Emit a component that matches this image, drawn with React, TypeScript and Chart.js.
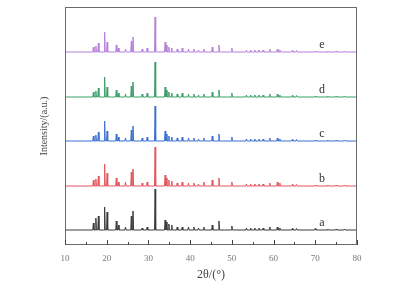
import React, { useEffect, useRef } from "react";
import { Chart, registerables } from "chart.js";
Chart.register(...registerables);

// Peak positions (2θ, degrees)
const peakPositions = [16.8, 17.4, 18.0, 19.5, 20.1, 22.3, 22.8, 24.5, 25.9, 26.3, 28.5, 29.7, 31.6, 34.0, 34.3, 34.9, 35.6, 36.9, 38.1, 39.6, 40.9, 42.0, 43.3, 45.3, 46.9, 50.0, 53.5, 54.5, 55.5, 56.5, 57.5, 59.1, 60.9, 61.5, 64.5, 65.5, 70.0, 73.0, 75.0, 77.0];
// Peak heights per sample (relative intensity)
const heightsA = [7, 12, 14, 23, 18, 9, 5, 3, 14, 19, 2, 3, 41, 10, 8, 6, 5, 3, 3, 3, 3, 2, 3, 5, 9, 4, 2, 2, 2, 2, 2, 3, 3, 2, 1.5, 1.5, 1.5, 1, 1, 1];
const heightsB = [6, 7, 10, 22, 13, 8, 4, 4, 14, 17, 3, 4, 39, 11, 8, 6, 5, 3, 4, 3, 3, 2, 4, 6, 8, 4, 2, 2, 2, 2, 2, 3, 4, 3, 1.5, 1.5, 1, 1, 1, 1];
const heightsC = [5, 6, 9, 20, 10, 7, 4, 3, 11, 15, 3, 4, 35, 10, 7, 5, 4, 3, 4, 3, 3, 2, 3, 5, 7, 4, 2, 2, 2, 2, 2, 3, 3, 2, 1.5, 1.5, 1, 1, 1, 1];
const heightsD = [5, 6, 9, 20, 10, 7, 4, 3, 11, 15, 3, 4, 35, 10, 7, 5, 4, 3, 4, 3, 3, 2, 3, 5, 7, 4, 2, 2, 2, 2, 2, 3, 3, 2, 1.5, 1.5, 1, 1, 1, 1];
const heightsE = [5, 6, 9, 20, 10, 7, 4, 3, 11, 15, 3, 4, 35, 10, 7, 5, 4, 3, 4, 3, 3, 2, 3, 5, 7, 4, 2, 2, 2, 2, 2, 3, 3, 2, 1.5, 1.5, 1, 1, 1, 1];
const sampleLabels = ["a", "b", "c", "d", "e"];
const stackOffsets = [15, 59, 104, 148, 193];
const xTicks = [10, 20, 30, 40, 50, 60, 70, 80];

const colors = ["#3a3a3a", "#e2545c", "#3a6fd2", "#3a9e6a", "#b67fd8"];

function buildSeries(heights: number[], offset: number) {
  const pts: { x: number; y: number }[] = [{ x: 10, y: offset }];
  const hw = 0.14;
  peakPositions.forEach((p, i) => {
    pts.push({ x: p - hw, y: offset });
    pts.push({ x: p, y: offset + heights[i] });
    pts.push({ x: p + hw, y: offset });
  });
  pts.push({ x: 80, y: offset });
  return pts;
}

export default function App() {
  const ref = useRef<HTMLCanvasElement>(null);
  useEffect(() => {
    const all = [heightsA, heightsB, heightsC, heightsD, heightsE];
    const datasets = all.map((h, i) => ({
      label: sampleLabels[i],
      data: buildSeries(h, stackOffsets[i]),
      borderColor: colors[i],
      borderWidth: 1,
      pointRadius: 0,
      fill: false,
      tension: 0,
    }));
    const deco = {
      id: "deco",
      afterDraw(chart: any) {
        const { ctx, chartArea } = chart;
        const xs = chart.scales.x;
        const ys = chart.scales.y;
        ctx.save();
        ctx.strokeStyle = "#6a6a6a";
        ctx.lineWidth = 1;
        ctx.strokeRect(chartArea.left + 0.5, chartArea.top + 0.5, chartArea.right - chartArea.left - 1, chartArea.bottom - chartArea.top - 1);
        ctx.strokeStyle = "#444";
        for (let v = 10; v <= 80; v += 5) {
          const px = Math.round(xs.getPixelForValue(v)) + 0.5;
          const len = v % 10 === 0 ? 5 : 3;
          ctx.beginPath();
          ctx.moveTo(px, chartArea.bottom);
          ctx.lineTo(px, chartArea.bottom - len);
          ctx.stroke();
        }
        ctx.fillStyle = "#333";
        ctx.font = "12px 'Liberation Serif', serif";
        ctx.textAlign = "center";
        ctx.textBaseline = "middle";
        sampleLabels.forEach((t, i) => {
          ctx.fillText(t, xs.getPixelForValue(71.6), ys.getPixelForValue(stackOffsets[i] + 7));
        });
        ctx.restore();
      },
    };
    const chart = new Chart(ref.current!, {
      type: "line",
      data: { datasets },
      plugins: [deco],
      options: {
        animation: false,
        responsive: false,
        maintainAspectRatio: false,
        layout: { padding: { left: 0, right: 51, top: 7, bottom: 0 } },
        plugins: { legend: { display: false }, tooltip: { enabled: false } },
        scales: {
          x: {
            type: "linear",
            min: 10,
            max: 80,
            afterBuildTicks: (s: any) => {
              s.ticks = xTicks.map((v) => ({ value: v }));
            },
            afterFit: (s: any) => {
              s.height = 43;
            },
            grid: { display: false },
            border: { display: false },
            ticks: {
              color: "#777",
              font: { family: "'Liberation Serif', serif", size: 9 },
              padding: 0,
              maxRotation: 0,
            },
            title: {
              display: true,
              text: "2θ/(°)",
              color: "#444",
              font: { family: "'Liberation Serif', serif", size: 12 },
              padding: { top: 0, bottom: 6 },
            },
          },
          y: {
            min: 0,
            max: 238,
            afterFit: (s: any) => {
              s.width = 65;
            },
            grid: { display: false },
            border: { display: false },
            ticks: { display: false },
            title: {
              display: true,
              text: "Intensity/(a.u.)",
              color: "#444",
              font: { family: "'Liberation Serif', serif", size: 10 },
              padding: { top: 38, bottom: 0 },
            },
          },
        },
      },
    });
    return () => chart.destroy();
  }, []);
  return (
    <div style={{ position: "absolute", left: 0, top: 0, width: 408, height: 288, background: "#fff" }}>
      <canvas ref={ref} width={408} height={288} style={{ width: 408, height: 288 }} />
    </div>
  );
}
